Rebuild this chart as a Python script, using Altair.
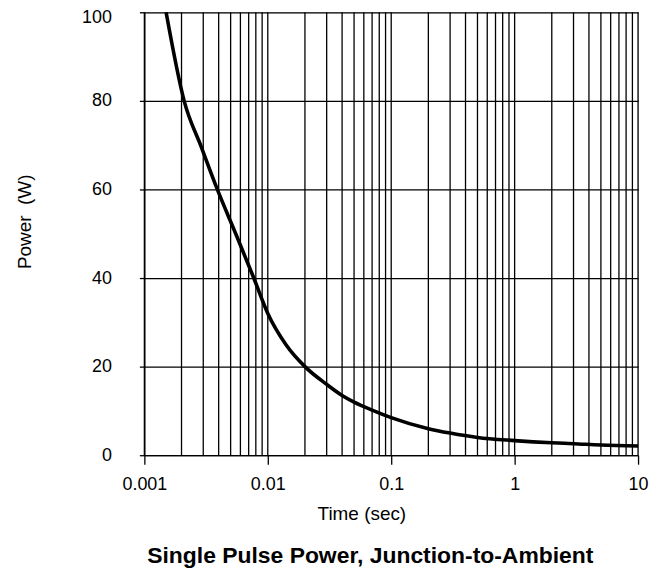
import altair as alt
import pandas as pd

# Curve
time_s = [0.0015, 0.0021, 0.0029, 0.0039, 0.0055, 0.0077,
          0.01, 0.014, 0.02, 0.03, 0.04, 0.05, 0.07, 0.1, 0.2, 0.3,
          0.5, 1, 2, 3, 5, 10]
power_w = [100, 80, 69.5, 60, 50, 40,
           32, 25, 20, 16, 13.5, 12.0, 10.2, 8.5, 6.0, 5.0,
           4.0, 3.3, 2.8, 2.6, 2.3, 2.1]

decades = [0.001, 0.01, 0.1, 1, 10]
minor_grid = [m * d for d in [0.001, 0.01, 0.1, 1] for m in range(1, 10)] + [10]
y_ticks = [0, 20, 40, 60, 80, 100]

FONT = "Liberation Sans"

curve = pd.DataFrame({"t": time_s, "p": power_w})
grid = pd.DataFrame({"g": minor_grid})

xscale = alt.Scale(type="log", domain=[0.001, 10], nice=False)
yscale = alt.Scale(domain=[0, 100], nice=False)

x_axis = alt.Axis(values=decades, format="~g", grid=False, title="Time (sec)",
                  tickSize=9, tickColor="black", tickWidth=1.3,
                  domainColor="black", domainWidth=1.3,
                  labelFont=FONT, labelFontSize=18, labelColor="black",
                  labelPadding=11, labelFlush=False,
                  titleFont=FONT, titleFontSize=19, titleFontWeight="normal",
                  titleColor="black", titleX=218, titleY=65,
                  titleBaseline="alphabetic", titleAlign="center")

y_axis = alt.Axis(values=y_ticks, grid=True, gridColor="black", gridWidth=1.3,
                  gridOpacity=1, title="Power\u00a0 (W)",
                  tickSize=5, tickColor="black", tickWidth=1.3,
                  domainColor="black", domainWidth=1.3,
                  labelFont=FONT, labelFontSize=18, labelColor="black",
                  labelPadding=28,
                  labelOffset={"condition": {"test": "datum.value == 100", "value": 5}, "value": 0},
                  titleFont=FONT, titleFontSize=19, titleFontWeight="normal",
                  titleColor="black", titleX=-120, titleY=210, titleAngle=270,
                  titleAlign="center", titleBaseline="middle")

rules = alt.Chart(grid).mark_rule(color="black", strokeWidth=1.3).encode(
    x=alt.X("g:Q", scale=xscale, axis=x_axis)
)

line = alt.Chart(curve).mark_line(color="black", strokeWidth=3.6, interpolate="monotone").encode(
    x=alt.X("t:Q", scale=xscale, axis=x_axis),
    y=alt.Y("p:Q", scale=yscale, axis=y_axis),
)

chart = alt.layer(rules, line).properties(
    width=496,
    height=445,
    title=alt.TitleParams(
        "Single Pulse Power, Junction-to-Ambient",
        orient="bottom", anchor="middle", dx=-21, offset=39,
        font=FONT, fontSize=23, fontWeight="bold", color="black",
        baseline="alphabetic",
    ),
    autosize=alt.AutoSizeParams(type="none"),
    padding={"left": 137, "top": 3, "right": 12, "bottom": 112},
).configure_view(stroke="black", strokeWidth=2).configure(background="white")

chart.save("out.html", embed_options={"renderer": "svg", "actions": False})
